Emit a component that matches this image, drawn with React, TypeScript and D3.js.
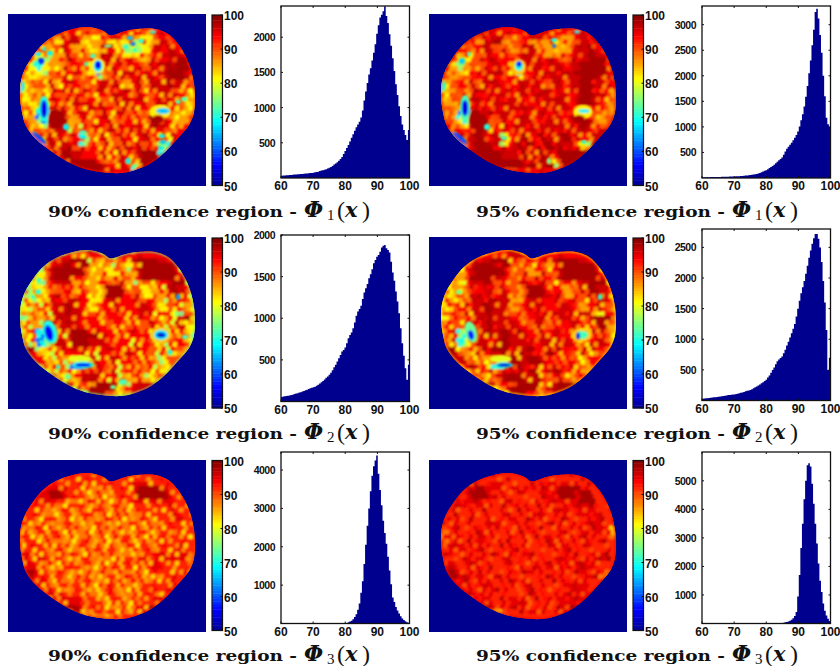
import React from "react";
import * as d3 from "d3";

// code digit -> confidence value (%)
const levels = [54, 60, 68, 74, 80, 84, 88, 92, 95, 98];
const colorTicks = [50, 60, 70, 80, 90, 100];
const histXTicks = [60, 70, 80, 90, 100];

// organ outline, pixels inside the heat map box
const outlineX = [102, 108, 113, 122, 130, 147, 160, 170, 178, 183, 186, 187, 186, 181, 170, 158, 143, 127, 113, 93, 77, 60, 43, 28, 18, 14, 12, 13, 17, 25, 35, 48, 65, 80, 90, 97];
const outlineY = [21.5, 20.5, 18.5, 16, 15, 15, 20, 30, 43, 56, 70, 83, 98, 111, 124, 137, 149, 156, 159, 158, 155, 148, 137, 125, 112, 98, 82, 67, 55, 42, 30, 21, 15, 13, 15, 18];

// low frequency part of each map, 30 x 25 cells
const grid1a = [
  "777777887766667788777667777777",
  "777766587866547687665466787777",
  "777656478874556454634457887777",
  "776654687565458746323458788777",
  "775463578676558876434567888877",
  "773325768766778887765576788997",
  "743245586746426878677687898997",
  "645436767775415687887778899987",
  "564557686676535788678887899987",
  "456668578768678886578688898876",
  "257545787868788767878678888665",
  "456657687678677878768767888754",
  "546547768868786687877867887645",
  "665427886767878776887765477654",
  "466116988687678687678662265465",
  "655125996578677867787699875556",
  "765537985637687868768789876677",
  "876668883676786877868767665767",
  "873788876723678678767867638787",
  "881388887723786867867674328888",
  "788188889676787687878667328887",
  "778888899877778768768999238877",
  "777888898999976678765999949877",
  "777777689999998778736999998777",
  "777777769999998877826998877777",
];
const grid1b = [
  "777777888777777888777777777777",
  "777787688887667788776577888777",
  "777767588985677565745568888777",
  "777765788676568857535568898777",
  "777574678787678887545678899877",
  "775436878877788888876687899987",
  "754356687857537888788788999987",
  "756547878886426788888889999987",
  "675668787787646888788888999887",
  "456778688878788887688788998887",
  "357656888878888878888788998776",
  "466768788788788888878878998865",
  "556658878878887788888878998756",
  "566537887878888887888876587765",
  "566117889788788788788773376565",
  "665236997688788878888788986566",
  "775648996748788878878888987766",
  "877778984787887888878878876877",
  "883888987834789789878978758888",
  "882388998834897978978885438898",
  "888288999787898798989778548887",
  "888899999988889879879999959887",
  "777777799999998889847999998777",
  "777777779999998988937998887777",
  "777777777777677778777777777777",
];
const grid2a = [
  "777777777666776677777777777777",
  "777766688999655656789999877777",
  "777757899599546565468999998777",
  "777468999996557467568999999777",
  "776458999776546565667999999877",
  "764367887565577667545666789987",
  "735457676576547999666455789876",
  "534547867677546999767546576877",
  "643558788877467877786777565765",
  "465677889877467787778877466754",
  "556576889887676778777888775366",
  "356567888877766777778776578895",
  "665566888878777677677687667845",
  "467136788999787777787765367764",
  "556125778999978777777752256653",
  "637135886999888777787764576764",
  "799456687888777877778776767655",
  "887546777786787777876766736565",
  "787765655667877887767765466664",
  "777568765115787676675676546774",
  "777545677566686876787656465777",
  "777776645578887786567545677777",
  "777777889764599984578888777777",
  "777777799876999965788877777777",
  "777777775455999654577777777777",
];
const grid2b = [
  "777777777777887777777777777777",
  "777776788999766767889999877777",
  "777768999799657676578999998777",
  "777578999997668578678999999777",
  "777569999887657676778999999877",
  "775478898676688778656777899987",
  "745568787687658999777566899887",
  "645658878788657999878657687887",
  "754668889888567887786788676876",
  "476788899888567888778877577865",
  "567687889888676788888888886477",
  "467678889888766788788887689996",
  "776677889888877688678788778956",
  "578247889899898788788776478875",
  "667236889899888778787763367764",
  "748246887899888878888875687875",
  "899567697999888977889787878766",
  "998657878897898878976767847676",
  "898876655667988998767776577775",
  "888679876226898787786787657885",
  "888656788677797987898767576888",
  "888887756689998897678656788888",
  "777777899875699995689999888777",
  "777777755568999976899988777777",
  "777777775566999765688777777777",
];
const grid3a = [
  "777777777777777777777777777777",
  "777777777787777777788887777777",
  "777778887777677777789999877777",
  "777889987776676677779999987777",
  "777888776676767667778888887777",
  "777777667766676766677777788777",
  "777766677676767676766777778777",
  "777676767667676767676767777877",
  "776767676676776676676766777777",
  "766767667667676767667676776777",
  "676676766766767676767676767776",
  "777676676677667667676767777777",
  "777767767667676767676767777877",
  "888776676766767667676777888886",
  "877876767676676676767878888876",
  "888767676767667676767788777776",
  "899876676676767667677677777785",
  "898776767667676766767676778776",
  "888876766767676767676767778777",
  "777888767676676767676767788777",
  "777788876767676767676776788777",
  "777778888876766767676778887777",
  "777777899988767676767899987777",
  "777777788976766767677888777777",
  "777777777766666676777777777777",
];
const grid3b = [
  "777777777777777777777777777777",
  "777776778887777778887888777777",
  "777778988877878878889999877777",
  "777789998787778778889998997777",
  "777888878778787787878888999777",
  "777887878787878787877888898777",
  "778778787787787878787878888777",
  "787878778787877878787878788877",
  "778787787877878787878787888877",
  "678787878778787878778787878885",
  "587878787877878787878787878776",
  "678787887878778787878787887877",
  "787878878787878778787878787787",
  "788778787877878878787878788897",
  "778787878787787878787887878897",
  "888787878778787787878878888777",
  "899878778787878878787878878866",
  "899887877878787787878787888655",
  "888887878787878778787878877755",
  "788888787878787878778787877877",
  "777888878787787878787878887777",
  "777778888787878787878888887777",
  "777777899887878787878899987777",
  "777777786587787878787888877777",
  "777777775567777777777777777777",
];

// fine speckle, 40 x 33 cells, "." means the coarse map only
const speckle1 = [
  "........5...9....6..5......4..6.........",
  "......6...5..4.9...5..6..4...5..9.......",
  "....5..9...6...5.4...9..5.6...4...6.....",
  "...4..6..5..9.4...6.5...4...9..5..6.....",
  "..5..4.6..9...5..6...9.5..6.4...9..5....",
  ".4.6...5.4..6.9..5.4...6..5...9...9..5..",
  "..5.4.6...5...4.6..9..5...6.9...5..9....",
  "5..6..4.5..9.6...5...4.6.9..5.9....6..5.",
  ".6.4...6..5...9.4..6.5...9...6..9.5...6.",
  "4..5.6..4...5.6..9..4..6.5.9....5..9..4.",
  ".5...4..6.5..9...5.6...4...6.9.5...6.5..",
  "6.4.5..6...4..5.9...6.5..9..4...6.9..4.5",
  ".5..6.4..5..9..6.4...5..6..9.5...4.6..5.",
  "4.6...5..4.6...5..9.6..4.5..6.9...5..4..",
  ".5.4.6..9..5.4...6..5...9.6..4.5...6.5.4",
  "6...5.4...6..9.5.4..6.9..5...6..4.5...6.",
  ".4.6..5.9...5..6..4..5.6...9.4...6..5.4.",
  "5..4...6.5.4..9..5.6...4.5...6.9..4..6.5",
  ".6.5.4...6..5..4...9..6..5.4...6..5.4...",
  "5..4.6.5...4.9..5.6..4.9...5.6..4...6.5.",
  ".4...5.6.4...6..5..9.4..6.5...9.5.6.4...",
  "..6.5..9.4.5...6.4...5.6..4.5...6..5....",
  "...5.4...6..5.4..9..6.5...9..4.6...4.5..",
  "..4..6.5...4.6..5.4...6.5...6.5.9..6....",
  "....6.5.4...9...6.5.4...6.5..9..4.5.....",
  ".....4..6.5...9..4..5.6...4...6...5.....",
  "......5..4.9.9..6.5..4.6.5.9...6........",
  "......6.5.....9...4.5..6...9.9..4.......",
  ".......4.6....9...6.5.4.5....9.5........",
  "........5.6.......5.4.6..4.....6........",
  ".........6.5.4.6.5..6.5..4.5.4..........",
  "...........5..6.4.5...4..6.5............",
  "...............5.6..5...................",
];
const speckle2 = [
  "......4...3.....9..5...4..6.............",
  "....5.3.....5.4......4.....9............",
  "...4.5..9.....5.3..5.....4.5..9.........",
  "..3.4.....5.9.4....6.3.....4......5.....",
  ".5.4.3.....5.9...4.5...6.3.....4...6.3..",
  ".3.5....6.....4.5.....4...5.....5..4....",
  "4.3...6..9..5.....5...9...5...6...3.5...",
  "5.4..3.....9...4.....6.9..3...4.....4.3.",
  ".3.5....6...9..6...5.....4.....5.3.4....",
  "4...3..6...9.5.....5.4...6.......5.3..6.",
  ".5.4.....9..6...4..5...3...9.4.....5.4.3",
  "3...4.5...6.9.....4...5.....6..5.3.....5",
  ".4...3.6.....4...6...4.....5...6.5...3.6",
  "5.3...4..5.9...5.....6.5.......5...4.6..",
  ".6...5.3...9...4...5...6.4...6.3...4.3..",
  "3.5....4.9..5.....5.....4.5...5.4..3...5",
  ".4.6.3...6.9...5...4.....5.4.....5.3.4..",
  "5.3...6.5...6..5.....5.4...6...4.3.5...4",
  ".5...3...4.5...6.5....4.6...6.4...3.4.5.",
  "..4.3...5.3.4.....4...5.4.....3.4...5...",
  "..5...3.4...6.3.....6.5...3.5...3.6...5.",
  "...4.3.....4.3.5.....6...3.4.....3.4....",
  "....3.5.4.....5.6.4.....4.5...6.4.3.....",
  ".....5.3.4.....4.3...6.5...4.6.3.5.4....",
  "......4.3...4.6...3.4...5...4.5.3.......",
  "......5.4.3...5.4...5.3...6.5...3.......",
  ".......4.5.3...6.5...6.3.5...6.3.5......",
  "........3.5.4.9.9...5.3...5.6.4.........",
  ".........5.3.9.9.9.4...3.5...3..........",
  "..........4.5.9.9.5.3.4...5.............",
  "...........5.4.9.6.3.5.4.3..............",
  "............3.5.4.3.5.4.................",
  ".............5.3.4.5....................",
];
const speckle3 = [
  "........5...8....5..4......5..8.........",
  "......8..5...4.8...5.....4...5..8.......",
  "....5...8..5...5.4...8..5.....4...8.....",
  "...4..8..5....4...5.5..8.4...8..5.......",
  "..5....5.8...5..4.8..5...5..4...8..5....",
  ".5.8...4.5..8...5..4...8..5...5.....5...",
  "..4..5..8..5..4.8.5..4..5.8..4..5..8....",
  "5..8..5...4...8.5...5.8..4...5.8...5..4.",
  ".5..4...5.8.5...4.8..5...4.8...5.4...5..",
  "4..8.5..4...5..8.5..4.8..5...4....5.8..4",
  ".5...4.8.5..4.5...5.8...4.5.8..4...5.8..",
  "8.4.5..5...8..4.5...5.4..8..4...5.8..4.5",
  ".5..8.4..5...8.5.4...5.8..4..5...4.8..5.",
  "4.5...5.8.4.5...4.8.5..4.5..8.4...5..4..",
  ".8.4.5...8.5.4...5..4.8...5..4.5.8...5.4",
  "5...4.8...5.4..8.5..4.5.8.4..5..4.5..8..",
  ".4.8..5.4...5.8..5..4..5.8.4...5.8..5.4.",
  "5..4...5.8.4..5..8.5...4.5...8.5..4..5..",
  ".8.5.4...5..8..4.5...8.5..4.5..8..5.4...",
  "5..4.8.5...4.5.8..5..4.5...8.5..4...8.5.",
  ".4...5.8.4...5..8.5.4..5.8..5.4.8.5.4...",
  "..8.5..4.5.8...5.4...8.5..4.5...8..5....",
  "...5.4...8..5.4..5.8..5...5..4.8...4.5..",
  "..4..8.5...4.8..5.4...5.8...5.4.5..8....",
  "....5.8.4...5...8.5.4...5.8..5..4.5.....",
  ".....4..5.8...5..4..8.5...4...8...5.....",
  "......5..4.5.8..5.4..8.5.4.5...8........",
  "......8.5.....5...4.8..5...5.8..4.......",
  ".......4.5....8...5.4.8.5....5.8........",
  "........5.4.......8.4.5..4.....5........",
  ".........4.5.4.5.8..4.5..4.8.4..........",
  "...........5..4.5.8...4..5.4............",
  "...............4.5..5...................",
];

// holes and small spots: x, y, rx, ry, value, angle
const spots1a = [
  [36, 95, 5, 13, 70, 0], [46, 105, 6, 10, 98, 0], [36, 95, 3.2, 9, 55, 0],
  [90, 52, 7, 8, 82, 0], [90, 52, 4.5, 6, 68, 0], [90, 51, 3, 4, 56, 0],
  [152, 98, 11, 7, 82, 0], [150, 105, 6, 4, 98, 0], [155, 97, 7, 3, 66, 0],
  [31, 124, 9, 2.5, 60, 40], [58, 113, 3, 3, 68, 0], [75, 123, 3, 2, 68, 0], [75, 118, 3, 2, 72, 0],
  [120, 147, 2.5, 3, 68, 0], [125, 153, 2, 2, 72, 0], [154, 122, 3, 2, 68, 0], [155, 128, 3, 2, 66, 0],
  [153, 134, 3, 2, 68, 0], [157, 138, 2, 2, 72, 0], [33, 47, 3, 3, 58, 0], [42, 39, 3, 2, 68, 0],
  [30, 40, 3, 2, 68, 0], [28, 50, 2, 3, 70, 0], [36, 35, 2, 2, 70, 0], [14, 72, 2.5, 5, 68, 0],
  [30, 97, 2, 3, 70, 0], [122, 24, 3, 2, 66, 0], [125, 30, 2.5, 2, 62, 0], [133, 27, 3, 2, 70, 0],
  [118, 33, 2, 2, 70, 0], [127, 36, 2, 2, 70, 0], [145, 18, 3, 1.5, 70, 0], [100, 32, 4, 1.5, 74, 0],
  [176, 85, 3, 2, 72, 0], [170, 88, 2.5, 2, 72, 0], [85, 42, 3, 2, 72, 0], [78, 50, 2, 2, 72, 0],
];
const spots1b = [
  [36, 94, 5, 13, 72, 0], [46, 105, 6, 10, 98, 0], [36, 94, 3.2, 8, 55, 0],
  [90, 53, 7, 8, 84, 0], [90, 52, 4, 5, 70, 0], [90, 50, 2.5, 3, 56, 0],
  [154, 98, 10, 7, 82, 0], [150, 105, 6, 4, 98, 0], [155, 97, 6, 2, 68, 0],
  [31, 124, 9, 2.5, 60, 40], [58, 113, 3, 3, 70, 0], [75, 124, 3, 2, 72, 0], [155, 128, 2.5, 2, 70, 0],
  [120, 147, 2, 3, 74, 0], [14, 72, 2.5, 5, 70, 0], [125, 26, 3, 2, 70, 0], [125, 32, 2, 2, 62, 0],
  [148, 18, 3, 1.5, 70, 0], [33, 47, 3, 3, 66, 0], [40, 40, 2, 2, 72, 0],
];
const spots2a = [
  [42, 95, 7, 12, 70, -15], [41, 96, 4, 8, 56, -15], [153, 98, 10, 8, 84, 0], [153, 98, 7, 5, 68, 0],
  [153, 98, 4.5, 2.5, 54, 0], [72, 122, 12, 4, 80, 0], [75, 128, 11, 3.5, 70, 0], [75, 128, 8, 2, 56, 0],
  [31, 43, 2, 2, 70, 0], [30, 55, 2.5, 2, 70, 0], [25, 60, 2, 2, 70, 0], [170, 60, 2, 3, 64, 0],
  [177, 100, 3, 2, 72, 0], [162, 115, 2, 2, 68, 0], [50, 130, 2, 2, 70, 0], [30, 95, 2, 3, 70, 0],
  [33, 105, 2, 2, 70, 0], [115, 145, 4, 3, 72, 0], [60, 140, 3, 2, 74, 0], [105, 150, 3, 2, 74, 0],
];
const spots2b = [
  [42, 95, 6, 11, 74, -15], [42, 98, 3, 5, 58, -15], [153, 98, 10, 7, 84, 0], [153, 98, 6, 4, 72, 0],
  [149, 99, 2, 3.5, 54, 0], [72, 122, 11, 4, 80, 0], [75, 128, 9, 3, 70, 0], [75, 128, 7, 1.8, 54, 0],
  [171, 60, 2, 3, 70, 0], [30, 55, 3, 2, 74, 0], [33, 105, 2, 2, 70, 0],
];
const spots3a: number[][] = [];
const spots3b: number[][] = [];

// histogram counts, 81 bins from 60 to 100
const hist1a = [
  33, 34, 35, 38, 40, 42, 44, 46, 48, 50, 52, 54, 56, 58, 60, 63, 65, 68, 70, 72,
  75, 80, 84, 90, 100, 105, 110, 118, 125, 135, 145, 155, 170, 190, 205, 225, 245, 270, 300, 340,
  385, 425, 470, 520, 570, 620, 670, 720, 760, 800, 860, 960, 1100, 1230, 1350, 1470, 1560, 1670, 1780, 1900,
  2050, 2170, 2280, 2320, 2370, 2440, 2300, 2200, 2040, 1880, 1700, 1520, 1330, 1180, 1020, 880, 760, 680, 610, 540, 680,
];
const hist1b = [
  15, 15, 16, 16, 17, 18, 18, 19, 20, 20, 21, 22, 23, 23, 24, 25, 26, 27, 28, 29,
  30, 32, 34, 36, 38, 41, 44, 47, 50, 54, 58, 62, 68, 72, 80, 90, 100, 112, 125, 140,
  150, 170, 195, 215, 235, 260, 290, 320, 345, 370, 400, 455, 520, 570, 610, 650, 690, 740, 790, 840,
  910, 1010, 1130, 1250, 1400, 1590, 1800, 2050, 2300, 2600, 2900, 3250, 3310, 3120, 2800, 2450, 2000, 1600, 1180, 1050, 1000,
];
const hist2a = [
  55, 60, 62, 65, 70, 72, 78, 82, 90, 95, 100, 108, 112, 120, 125, 135, 142, 150, 160, 165,
  170, 178, 190, 200, 215, 230, 245, 265, 285, 300, 320, 345, 375, 410, 440, 480, 520, 560, 600, 620,
  650, 700, 760, 800, 830, 880, 950, 1030, 1080, 1110, 1150, 1230, 1310, 1360, 1410, 1480, 1530, 1590, 1660, 1700,
  1740, 1760, 1800, 1850, 1870, 1880, 1840, 1820, 1790, 1680, 1550, 1450, 1320, 1200, 1060, 880, 700, 550, 400, 260, 440,
];
const hist2b = [
  30, 32, 35, 38, 42, 45, 50, 52, 55, 58, 60, 64, 68, 72, 78, 82, 88, 90, 95, 98,
  100, 105, 112, 118, 125, 130, 140, 150, 160, 165, 170, 185, 200, 215, 230, 245, 260, 280, 300, 320,
  340, 375, 410, 455, 500, 540, 590, 640, 670, 695, 720, 770, 830, 900, 960, 1030, 1100, 1170, 1250, 1370,
  1500, 1630, 1750, 1850, 1950, 2070, 2200, 2330, 2450, 2560, 2650, 2720, 2720, 2640, 2500, 2260, 1950, 1600, 1150, 500, 700,
];
const hist3a = [
  4, 4, 4, 4, 5, 5, 5, 5, 5, 5, 5, 5, 5, 5, 5, 5, 5, 5, 5, 5,
  6, 6, 6, 6, 6, 6, 6, 6, 6, 6, 6, 6, 6, 6, 6, 6, 7, 7, 7, 7,
  8, 15, 30, 50, 70, 110, 170, 240, 360, 520, 800, 1100, 1550, 2050, 2550, 3000, 3450, 3850, 4100, 4250,
  4380, 3900, 3480, 3080, 2680, 2360, 2080, 1740, 1380, 1020, 680, 560, 430, 340, 260, 190, 130, 90, 60, 35, 20,
];
const hist3b = [
  4, 4, 4, 4, 4, 4, 4, 4, 4, 4, 4, 4, 4, 4, 4, 4, 4, 4, 4, 4,
  5, 5, 5, 5, 5, 5, 5, 5, 5, 5, 6, 6, 6, 6, 6, 6, 6, 7, 7, 7,
  8, 8, 9, 9, 10, 11, 12, 13, 15, 17, 20, 28, 40, 55, 70, 95, 130, 180, 260, 400,
  950, 1700, 2650, 3500, 4350, 5000, 5550, 5620, 5500, 4900, 4200, 3500, 2800, 2100, 1500, 1100, 700, 450, 280, 170, 90,
];

const yTicks1a = [500, 1000, 1500, 2000];
const yTicks1b = [500, 1000, 1500, 2000, 2500, 3000];
const yTicks2a = [500, 1000, 1500, 2000];
const yTicks2b = [500, 1000, 1500, 2000, 2500];
const yTicks3a = [1000, 2000, 3000, 4000];
const yTicks3b = [1000, 2000, 3000, 4000, 5000];

const NAVY = "#00008f";
const LABEL = "'Liberation Sans', Arial, sans-serif";
const SERIF = "'Liberation Serif', serif";
const DEJAVU = "'DejaVu Serif', serif";

const jet = d3
  .scaleLinear<string>()
  .domain([50, 56.25, 68.75, 81.25, 93.75, 100])
  .range(["#00008f", "#0000ff", "#00ffff", "#ffff00", "#ff0000", "#800000"]);

const outlinePath = d3
  .line<number>()
  .x(i => outlineX[i])
  .y(i => outlineY[i])
  .curve(d3.curveCatmullRomClosed)(outlineX.map((_, i) => i)) as string;

function HeatMap({
  x,
  y,
  grid,
  speckle,
  spots,
  shift,
  boost,
  rim,
  id,
}: {
  x: number;
  y: number;
  grid: string[];
  speckle: string[];
  spots: number[][];
  shift: number;
  boost: number;
  rim: number;
  id: string;
}) {
  const cols = d3.scaleBand<number>().domain(d3.range(30)).range([12, 187]);
  const rows = d3.scaleBand<number>().domain(d3.range(25)).range([13, 159]);
  const fineX = d3.scaleBand<number>().domain(d3.range(40)).range([12, 187]);
  const fineY = d3.scaleBand<number>().domain(d3.range(33)).range([13, 159]);

  // each fine cell mixes the coarse value under it with its own speckle code
  const dots: { cx: number; cy: number; v: number }[] = [];
  speckle.forEach((row, r) => {
    row.split("").forEach((ch, c) => {
      const cx = (fineX(c) as number) + (r % 2 ? fineX.bandwidth() / 2 : 0);
      const cy = (fineY(r) as number) + fineY.bandwidth() / 2;
      const under = +grid[Math.floor((r * 25) / 33)][Math.floor((c * 30) / 40)];
      const base = levels[under];
      // only the dark patches of the coarse map reach the top of the scale
      let v = under === 9 ? base : Math.min(96, base + boost);
      if (ch !== "." && under !== 9) {
        v = 0.3 * base + 0.7 * levels[Math.min(9, +ch + shift)];
      }
      dots.push({ cx, cy, v });
    });
  });

  return (
    <g transform={`translate(${x},${y})`}>
      <rect width={198} height={172} fill={NAVY} />
      <g clipPath={`url(#clip-${id})`}>
        <g filter="url(#coarse)">
          <rect x={0} y={0} width={198} height={172} fill={jet(levels[7])} />
          {grid.map((row, r) =>
            row.split("").map((ch, c) => (
              <rect
                key={`${r}-${c}`}
                x={cols(c)}
                y={rows(r)}
                width={cols.bandwidth() + 0.5}
                height={rows.bandwidth() + 0.5}
                fill={jet(levels[+ch])}
              />
            ))
          )}
        </g>
        <g filter="url(#medium)">
          {dots.map((d, i) => (
            <circle key={i} cx={d.cx} cy={d.cy} r={3} fill={jet(d.v)} />
          ))}
        </g>
        <g filter="url(#fine)">
          {spots.map((s, i) => (
            <ellipse
              key={i}
              cx={s[0]}
              cy={s[1]}
              rx={s[2]}
              ry={s[3]}
              fill={jet(s[4])}
              transform={s[5] ? `rotate(${s[5]} ${s[0]} ${s[1]})` : undefined}
            />
          ))}
          <path d={outlinePath} fill="none" stroke={jet(rim)} strokeWidth={1.4} />
        </g>
      </g>
      <defs>
        <clipPath id={`clip-${id}`}>
          <path d={outlinePath} />
        </clipPath>
      </defs>
    </g>
  );
}

function ColorBar({ x, y0, y1 }: { x: number; y0: number; y1: number }) {
  const y = d3.scaleLinear().domain([50, 100]).range([y1, y0]);
  const steps = d3.range(64);
  const h = (y1 - y0) / 64;
  return (
    <g>
      {steps.map(i => (
        <rect
          key={i}
          x={x}
          y={y(50 + ((i + 1) * 50) / 64)}
          width={10.5}
          height={h + 0.4}
          fill={jet(50 + ((i + 0.5) * 50) / 64)}
        />
      ))}
      <rect x={x} y={y0} width={10.5} height={y1 - y0} fill="none" stroke="#111" strokeWidth={1.2} />
      {colorTicks.map(t => (
        <g key={t}>
          <line x1={x + 8.5} x2={x + 10.5} y1={y(t)} y2={y(t)} stroke="#111" />
          <text x={x + 12} y={y(t) + 5} fontFamily={LABEL} fontWeight="bold" fontSize={12} fill="#111">
            {t}
          </text>
        </g>
      ))}
    </g>
  );
}

function Histogram({
  x,
  top,
  bottom,
  counts,
  yMax,
  yTicks,
}: {
  x: number;
  top: number;
  bottom: number;
  counts: number[];
  yMax: number;
  yTicks: number[];
}) {
  const w = 128.5;
  const sx = d3.scaleLinear().domain([60, 100]).range([x, x + w]);
  const sy = d3.scaleLinear().domain([0, yMax]).range([bottom, top]);
  const binWidth = 40 / counts.length;
  const area = d3
    .area<number>()
    .x((_, i) => sx(60 + i * binWidth))
    .y0(bottom)
    .y1(d => sy(d))
    .curve(d3.curveStepAfter);
  return (
    <g>
      <path d={area([...counts, counts[counts.length - 1]]) as string} fill={NAVY} />
      <rect x={x} y={top} width={w} height={bottom - top} fill="none" stroke="#111" strokeWidth={1.3} />
      {histXTicks.map(t => (
        <g key={t}>
          <line x1={sx(t)} x2={sx(t)} y1={top} y2={top + 2} stroke="#111" />
          <line x1={sx(t)} x2={sx(t)} y1={bottom} y2={bottom - 2} stroke="#111" />
          <text
            x={sx(t)}
            y={bottom + 12}
            textAnchor="middle"
            fontFamily={LABEL}
            fontWeight="bold"
            fontSize={12}
            fill="#111"
          >
            {t}
          </text>
        </g>
      ))}
      {yTicks.map(t => (
        <g key={t}>
          <line x1={x} x2={x + 2} y1={sy(t)} y2={sy(t)} stroke="#111" />
          <line x1={x + w} x2={x + w - 2} y1={sy(t)} y2={sy(t)} stroke="#111" />
          <text
            x={x - 6}
            y={sy(t) + 4}
            textAnchor="end"
            fontFamily={LABEL}
            fontWeight="bold"
            fontSize={10.5}
            letterSpacing={-0.5}
            fill="#111"
          >
            {t}
          </text>
        </g>
      ))}
    </g>
  );
}

function Caption({ x, y, pct, sub }: { x: number; y: number; pct: string; sub: string }) {
  return (
    <g fill="#111">
      <text
        x={x}
        y={y}
        fontFamily={DEJAVU}
        fontWeight="bold"
        fontSize={14}
        textLength={249}
        lengthAdjust="spacingAndGlyphs"
      >
        {`${pct}% confidence region -`}
      </text>
      <text x={x + 256} y={y} fontFamily={DEJAVU} fontWeight="bold" fontStyle="italic" fontSize={22}>
        Φ
      </text>
      <text x={x + 279} y={y + 3} fontFamily={SERIF} fontSize={15}>
        {sub}
      </text>
      <text x={x + 289} y={y + 1} fontFamily={SERIF} fontSize={24}>
        (
      </text>
      <text x={x + 297} y={y} fontFamily={DEJAVU} fontWeight="bold" fontStyle="italic" fontSize={21}>
        x
      </text>
      <text x={x + 314} y={y + 1} fontFamily={SERIF} fontSize={24}>
        )
      </text>
    </g>
  );
}

const rowLayout = [
  { heatY: 14, barY0: 15, barY1: 185.5, capY: 217, sub: "1" },
  { heatY: 237, barY0: 238, barY1: 408, capY: 439, sub: "2" },
  { heatY: 460, barY0: 460.5, barY1: 630.5, capY: 661, sub: "3" },
];
const colLayout = [
  { heatX: 8, barX: 212, histX: 281, capX: 48, pct: "90" },
  { heatX: 429, barX: 633, histX: 702, capX: 476, pct: "95" },
];
const histPanels = [
  [
    { counts: hist1a, yMax: 2443, ticks: yTicks1a, top: 6, bottom: 178 },
    { counts: hist1b, yMax: 3366, ticks: yTicks1b, top: 6, bottom: 178 },
  ],
  [
    { counts: hist2a, yMax: 2000, ticks: yTicks2a, top: 235, bottom: 401.5 },
    { counts: hist2b, yMax: 2800, ticks: yTicks2b, top: 229, bottom: 400.5 },
  ],
  [
    { counts: hist3a, yMax: 4470, ticks: yTicks3a, top: 452, bottom: 623.5 },
    { counts: hist3b, yMax: 6010, ticks: yTicks3b, top: 452, bottom: 623.5 },
  ],
];
const heatGrids = [
  [grid1a, grid1b],
  [grid2a, grid2b],
  [grid3a, grid3b],
];
const heatSpeckles = [speckle1, speckle2, speckle3];
const heatSpots = [
  [spots1a, spots1b],
  [spots2a, spots2b],
  [spots3a, spots3b],
];
const rimValues = [
  [93, 96],
  [74, 82],
  [92, 95],
];
const speckleShift = [
  [0, 1],
  [0, 1],
  [0, 2],
];
const boostValues = [2, 2, 0];

export default function App() {
  return (
    <svg width={840} height={666} style={{ position: "absolute", left: 0, top: 0, background: "#fff" }}>
      <defs>
        <filter id="coarse" x="0" y="0" width="100%" height="100%">
          <feGaussianBlur stdDeviation={2.6} />
        </filter>
        <filter id="medium" x="0" y="0" width="100%" height="100%">
          <feGaussianBlur stdDeviation={1.2} />
        </filter>
        <filter id="fine" x="0" y="0" width="100%" height="100%">
          <feGaussianBlur stdDeviation={0.8} />
        </filter>
      </defs>
      {rowLayout.map((row, r) =>
        colLayout.map((col, c) => {
          const h = histPanels[r][c];
          return (
            <g key={`${r}-${c}`}>
              <HeatMap
                id={`${r}${c}`}
                x={col.heatX}
                y={row.heatY}
                grid={heatGrids[r][c]}
                speckle={heatSpeckles[r]}
                spots={heatSpots[r][c]}
                shift={speckleShift[r][c]}
                boost={boostValues[r]}
                rim={rimValues[r][c]}
              />
              <ColorBar x={col.barX} y0={row.barY0} y1={row.barY1} />
              <Histogram x={col.histX} top={h.top} bottom={h.bottom} counts={h.counts} yMax={h.yMax} yTicks={h.ticks} />
              <Caption x={col.capX} y={row.capY} pct={col.pct} sub={row.sub} />
            </g>
          );
        })
      )}
    </svg>
  );
}
